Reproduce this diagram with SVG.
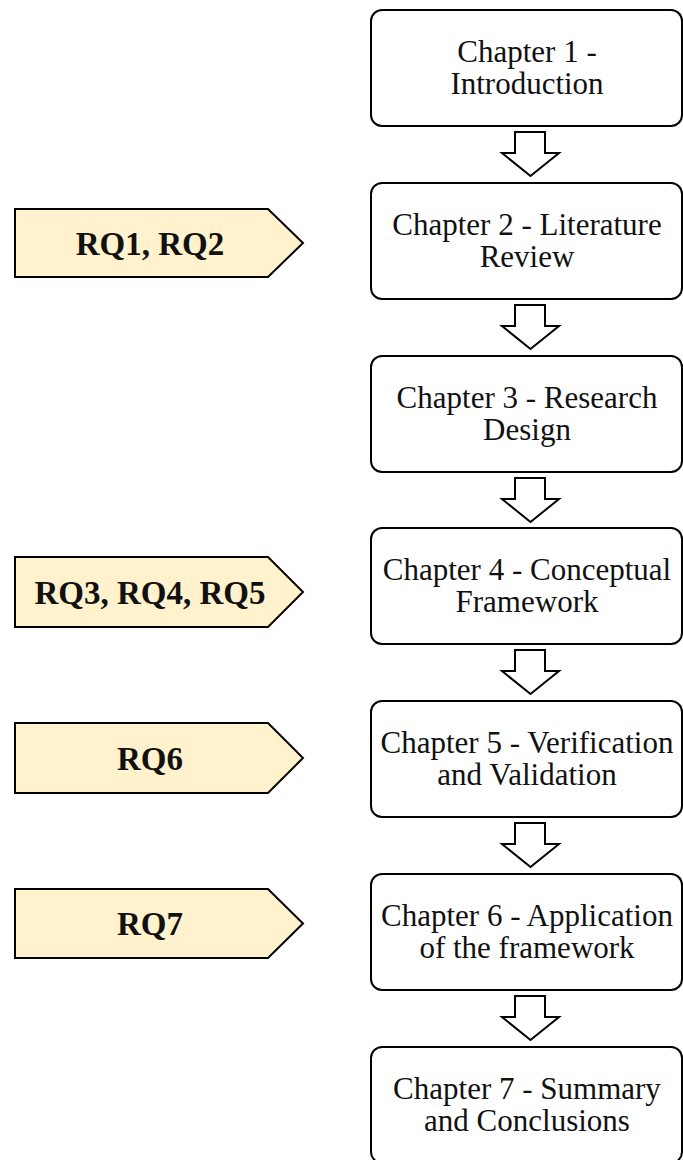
<svg xmlns="http://www.w3.org/2000/svg" width="683" height="1160" viewBox="0 0 683 1160">
  <style>
    .chapter rect { fill: #ffffff; stroke: #000000; stroke-width: 2; }
    .chapter text { font-family: "Liberation Serif", "Times New Roman", serif; font-size: 31px; fill: #111111; text-anchor: middle; }
    .rq polygon { fill: #fff2cc; stroke: #000000; stroke-width: 2; stroke-linejoin: miter; }
    .rq text { font-family: "Liberation Serif", "Times New Roman", serif; font-size: 33px; font-weight: bold; fill: #111111; text-anchor: middle; }
    .flow polygon { fill: #ffffff; stroke: #000000; stroke-width: 2; stroke-linejoin: miter; }
  </style>
  <rect width="683" height="1160" fill="#ffffff"/>

  <!-- Chapter boxes -->
  <g id="ch1" class="chapter">
    <rect x="371" y="10" width="311" height="116" rx="11"/>
    <text x="527" y="62">Chapter 1 -</text>
    <text x="527" y="94">Introduction</text>
  </g>
  <g id="ch2" class="chapter">
    <rect x="371" y="183" width="311" height="116" rx="11"/>
    <text x="527" y="235">Chapter 2 - Literature</text>
    <text x="527" y="267">Review</text>
  </g>
  <g id="ch3" class="chapter">
    <rect x="371" y="356" width="311" height="116" rx="11"/>
    <text x="527" y="408">Chapter 3 - Research</text>
    <text x="527" y="440">Design</text>
  </g>
  <g id="ch4" class="chapter">
    <rect x="371" y="528" width="311" height="116" rx="11"/>
    <text x="527" y="580">Chapter 4 - Conceptual</text>
    <text x="527" y="612">Framework</text>
  </g>
  <g id="ch5" class="chapter">
    <rect x="371" y="701" width="311" height="116" rx="11"/>
    <text x="527" y="753">Chapter 5 - Verification</text>
    <text x="527" y="785">and Validation</text>
  </g>
  <g id="ch6" class="chapter">
    <rect x="371" y="874" width="311" height="116" rx="11"/>
    <text x="527" y="926">Chapter 6 - Application</text>
    <text x="527" y="958">of the framework</text>
  </g>
  <g id="ch7" class="chapter">
    <rect x="371" y="1047" width="311" height="116" rx="11"/>
    <text x="527" y="1099">Chapter 7 - Summary</text>
    <text x="527" y="1131">and Conclusions</text>
  </g>

  <!-- Research question tags -->
  <g id="rq1-2" class="rq">
    <polygon points="15,209 268,209 303,243 268,277 15,277"/>
    <text x="150" y="255">RQ1, RQ2</text>
  </g>
  <g id="rq3-5" class="rq">
    <polygon points="15,557 268,557 303,592 268,627 15,627"/>
    <text x="150" y="604">RQ3, RQ4, RQ5</text>
  </g>
  <g id="rq6" class="rq">
    <polygon points="15,723 268,723 303,758 268,793 15,793"/>
    <text x="150" y="770">RQ6</text>
  </g>
  <g id="rq7" class="rq">
    <polygon points="15,889 268,889 303,923.5 268,958 15,958"/>
    <text x="150" y="935">RQ7</text>
  </g>

  <!-- Block arrows between chapters -->
  <g id="connectors" class="flow">
    <polygon points="515,132 545,132 545,153 559,153 530.5,176 502,153 515,153"/>
    <polygon points="515,305 545,305 545,326 559,326 530.5,349 502,326 515,326"/>
    <polygon points="515,478 545,478 545,499 559,499 530.5,522 502,499 515,499"/>
    <polygon points="515,650 545,650 545,671 559,671 530.5,694 502,671 515,671"/>
    <polygon points="515,823 545,823 545,844 559,844 530.5,867 502,844 515,844"/>
    <polygon points="515,996 545,996 545,1017 559,1017 530.5,1040 502,1017 515,1017"/>
  </g>
</svg>
